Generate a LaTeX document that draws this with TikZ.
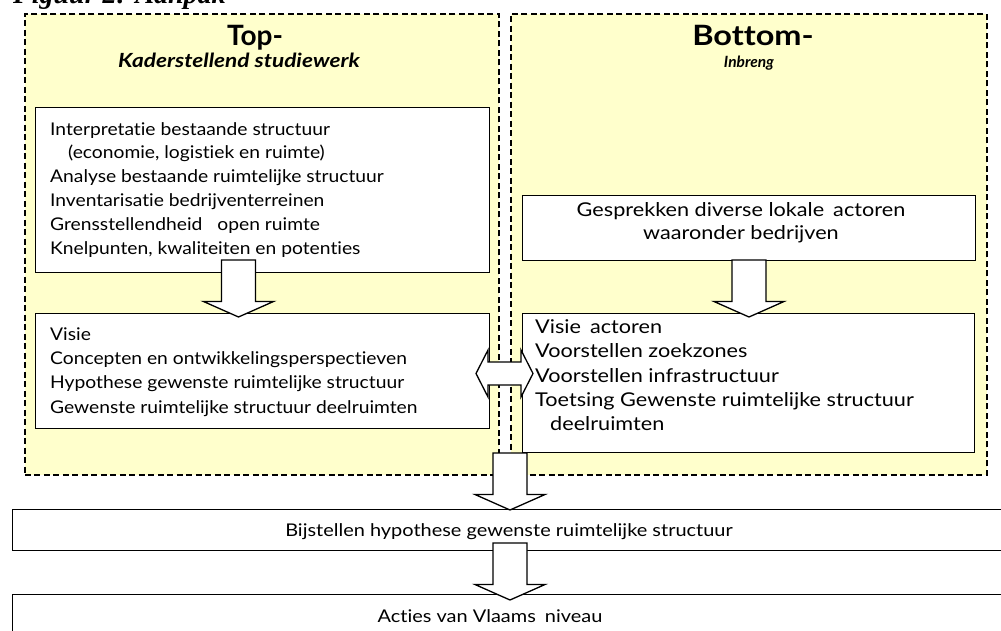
\documentclass[tikz,border=0pt]{standalone}
\usepackage{fontspec}
\setmainfont{Lato}[Ligatures={NoCommon,NoContextual}]
\newfontfamily\lfont{Lato}[FakeStretch=1.10, Ligatures={NoCommon,NoContextual}]
\newfontfamily\rfont{Lato}[FakeStretch=1.14, Ligatures={NoCommon,NoContextual}]
\newfontfamily\wfont{Lato}[FakeStretch=1.16, Ligatures={NoCommon,NoContextual}]
\newfontfamily\capfont{Liberation Serif}
\usetikzlibrary{calc}
\definecolor{paleyellow}{HTML}{FFFFCC}
\newcommand\blkdown[2]{\draw[blockarr] ($(#1)+(-17,0)$) -- ($(#2)+(-17,-15.5)$) -- ($(#2)+(-35,-15.5)$) -- (#2) -- ($(#2)+(35,-15.5)$) -- ($(#2)+(17,-15.5)$) -- ($(#1)+(17,0)$) -- cycle;}
\begin{document}
\begin{tikzpicture}[x=1pt,y=-1pt,
  zone/.style={draw=black, line width=1.7pt, dash pattern=on 6pt off 3.5pt, fill=paleyellow, anchor=north west, inner sep=0pt},
  stepbox/.style={draw=black, line width=1.3pt, fill=white, anchor=north west, inner sep=0pt},
  ln/.style={anchor=base west, inner sep=0pt, font=\lfont\fontsize{17.5}{20}\selectfont},
  rn/.style={anchor=base west, inner sep=0pt, font=\rfont\fontsize{19}{22}\selectfont},
  rnc/.style={anchor=base, inner sep=0pt, font=\rfont\fontsize{19}{22}\selectfont},
  bnc/.style={anchor=base, inner sep=0pt, font=\rfont\fontsize{17.5}{20}\selectfont},
  blockarr/.style={draw=black, line width=1.3pt, fill=white, line join=miter},
]
\useasboundingbox (0,0) rectangle (1001,631);
\clip (0,0) rectangle (1001,631);
\fill[white] (0,0) rectangle (1001,631);

% caption (cut off at top, as in the original)
\node[anchor=base west, inner sep=0pt, font=\capfont\bfseries\itshape\fontsize{28}{30}\selectfont] (cap) at (13,4) {Figuur 2: Aanpak};

% zones
\node[zone, minimum width=474pt, minimum height=461pt] (zl) at (24,13) {};
\node[zone, minimum width=476pt, minimum height=461pt] (zr) at (510,13) {};

% titles
\node[anchor=base, inner sep=0pt, font=\bfseries\fontsize{28}{30}\selectfont] (tl) at (255,46) {Top-};
\node[anchor=base, inner sep=0pt, font=\wfont\bfseries\itshape\fontsize{19.5}{22}\selectfont] (stl) at (239,68) {Kaderstellend studiewerk};
\node[anchor=base, inner sep=0pt, font=\wfont\bfseries\fontsize{28}{30}\selectfont] (tr) at (753,46) {Bottom-};
\node[anchor=base, inner sep=0pt, font=\bfseries\itshape\fontsize{15.5}{17}\selectfont] (str) at (749,68) {Inbreng};

% boxes
\node[stepbox, minimum width=454pt, minimum height=165pt] (b1) at (35,107) {};
\node[stepbox, minimum width=454pt, minimum height=115pt] (b2) at (35,313) {};
\node[stepbox, minimum width=453pt, minimum height=65pt] (b3) at (522,195) {};
\node[stepbox, minimum width=452pt, minimum height=139pt] (b4) at (522,313) {};
\node[stepbox, minimum width=1000pt, minimum height=41pt] (b5) at (12,509) {};
\node[stepbox, minimum width=1000pt, minimum height=60pt] (b6) at (12,594) {};

% block arrows
\coordinate (a1s) at (238.5,260); \coordinate (a1t) at (238.5,317);
\coordinate (a2s) at (749,260);   \coordinate (a2t) at (749,317);
\coordinate (a3s) at (510,453);   \coordinate (a3t) at (510,510);
\coordinate (a4s) at (510,543);   \coordinate (a4t) at (510,600);
\blkdown{a1s}{a1t}
\blkdown{a2s}{a2t}
\blkdown{a3s}{a3t}
\blkdown{a4s}{a4t}
\coordinate (dc) at (504.5,373.5);
\draw[blockarr] ($(dc)+(-28.5,0)$) -- ($(dc)+(-16.5,-23.5)$) -- ($(dc)+(-16.5,-11.5)$) -- ($(dc)+(16.5,-11.5)$) -- ($(dc)+(16.5,-23.5)$) -- ($(dc)+(28.5,0)$) -- ($(dc)+(16.5,23.5)$) -- ($(dc)+(16.5,11.5)$) -- ($(dc)+(-16.5,11.5)$) -- ($(dc)+(-16.5,23.5)$) -- cycle;

% texts
\foreach \x/\y/\t [count=\i] in {50/136/{Interpretatie bestaande structuur},
  68/159/{(economie, logistiek en ruimte)},
  50/183/{Analyse bestaande ruimtelijke structuur},
  50/207/{Inventarisatie bedrijventerreinen},
  50/230/{Grensstellendheid\hspace{15pt}open ruimte},
  50/254/{Knelpunten, kwaliteiten en potenties}}
  \node[ln] (t1-\i) at (\x,\y) {\t};
\foreach \x/\y/\t [count=\i] in {50/340/{Visie},
  50/364/{Concepten en ontwikkelingsperspectieven},
  50/388/{Hypothese gewenste ruimtelijke structuur},
  50/413/{Gewenste ruimtelijke structuur deelruimten}}
  \node[ln] (t2-\i) at (\x,\y) {\t};
\node[rnc] (t3-1) at (741,217) {Gesprekken diverse lokale\hspace{9pt}actoren};
\node[rnc] (t3-2) at (741,240) {waaronder bedrijven};
\foreach \x/\y/\t [count=\i] in {535/333/{Visie\hspace{9pt}actoren},
  535/357/{Voorstellen zoekzones},
  535/382/{Voorstellen infrastructuur},
  535/406/{Toetsing Gewenste ruimtelijke structuur},
  550/430/{deelruimten}}
  \node[rn] (t4-\i) at (\x,\y) {\t};
\node[bnc] (t5) at (509,536) {Bijstellen hypothese gewenste ruimtelijke structuur};
\node[bnc] (t6) at (490,622) {Acties van Vlaams\hspace{9pt}niveau};
\end{tikzpicture}
\end{document}
